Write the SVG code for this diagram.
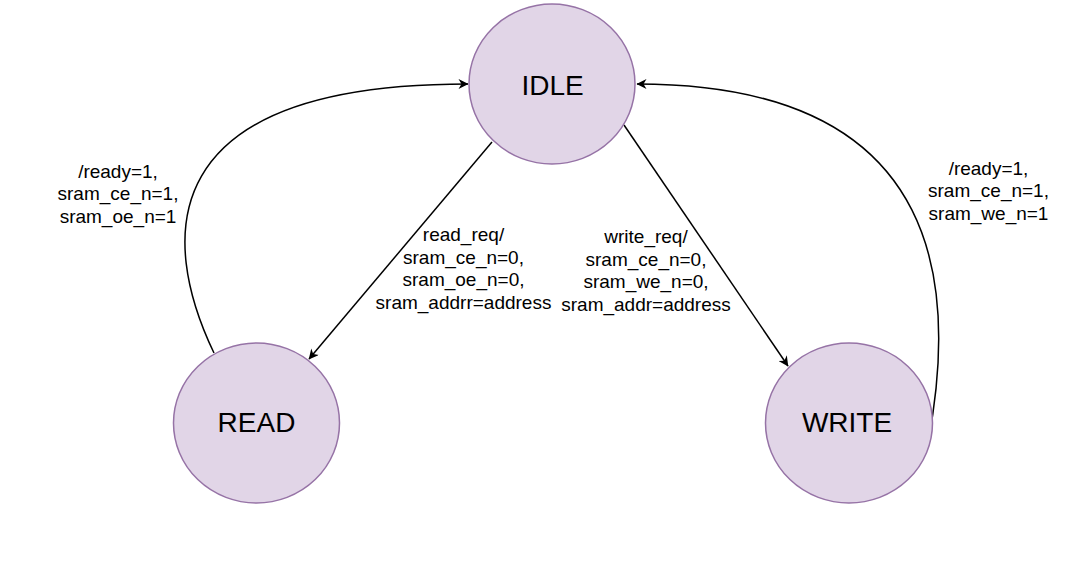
<svg xmlns="http://www.w3.org/2000/svg" width="1087" height="568" viewBox="0 0 1087 568">
<style>
.node{fill:#e1d5e7;stroke:#9673a6;stroke-width:1.5}
.ntext{font-family:"Liberation Sans",Arial,sans-serif;font-size:28px;fill:#000;text-anchor:middle}
.lbl{font-family:"Liberation Sans",Arial,sans-serif;font-size:19px;fill:#000;text-anchor:middle}
.edge{fill:none;stroke:#000;stroke-width:1.5;marker-end:url(#arr)}
</style>
<defs>
<marker id="arr" viewBox="0 0 10 10" refX="9.5" refY="5" markerWidth="13" markerHeight="10" markerUnits="userSpaceOnUse" orient="auto">
<path d="M0,0 L10,5 L0,10 L3,5 z" fill="#000"/>
</marker>
</defs>
<rect width="1087" height="568" fill="#fff"/>
<g id="connectors">
<path class="edge" d="M214,353 C160,240 150,84 468,84"/>
<path class="edge" d="M928,443 C955,300 955,84 637,84"/>
<path class="edge" d="M492,142 L309,359"/>
<path class="edge" d="M624,125 L788,366"/>
</g>
<g id="idle">
<ellipse class="node" cx="552" cy="84" rx="83" ry="80"/>
<text class="ntext" x="552.5" y="95">IDLE</text>
</g>
<g id="read">
<ellipse class="node" cx="256.5" cy="423" rx="83" ry="80"/>
<text class="ntext" x="256.5" y="432">READ</text>
</g>
<g id="write">
<ellipse class="node" cx="849" cy="423" rx="83.5" ry="80"/>
<text class="ntext" x="847" y="432">WRITE</text>
</g>
<g id="labels">
<text class="lbl" x="118" y="177.5">/ready=1,</text>
<text class="lbl" x="118" y="200">sram_ce_n=1,</text>
<text class="lbl" x="118" y="222.5">sram_oe_n=1</text>
<text class="lbl" x="988.5" y="174.5">/ready=1,</text>
<text class="lbl" x="988.5" y="197">sram_ce_n=1,</text>
<text class="lbl" x="988.5" y="219.5">sram_we_n=1</text>
<text class="lbl" x="463.5" y="241">read_req/</text>
<text class="lbl" x="463.5" y="263.5">sram_ce_n=0,</text>
<text class="lbl" x="463.5" y="286">sram_oe_n=0,</text>
<text class="lbl" x="463.5" y="308.5">sram_addrr=address</text>
<text class="lbl" x="646" y="243">write_req/</text>
<text class="lbl" x="646" y="265.5">sram_ce_n=0,</text>
<text class="lbl" x="646" y="288">sram_we_n=0,</text>
<text class="lbl" x="646" y="310.5">sram_addr=address</text>
</g>
</svg>
